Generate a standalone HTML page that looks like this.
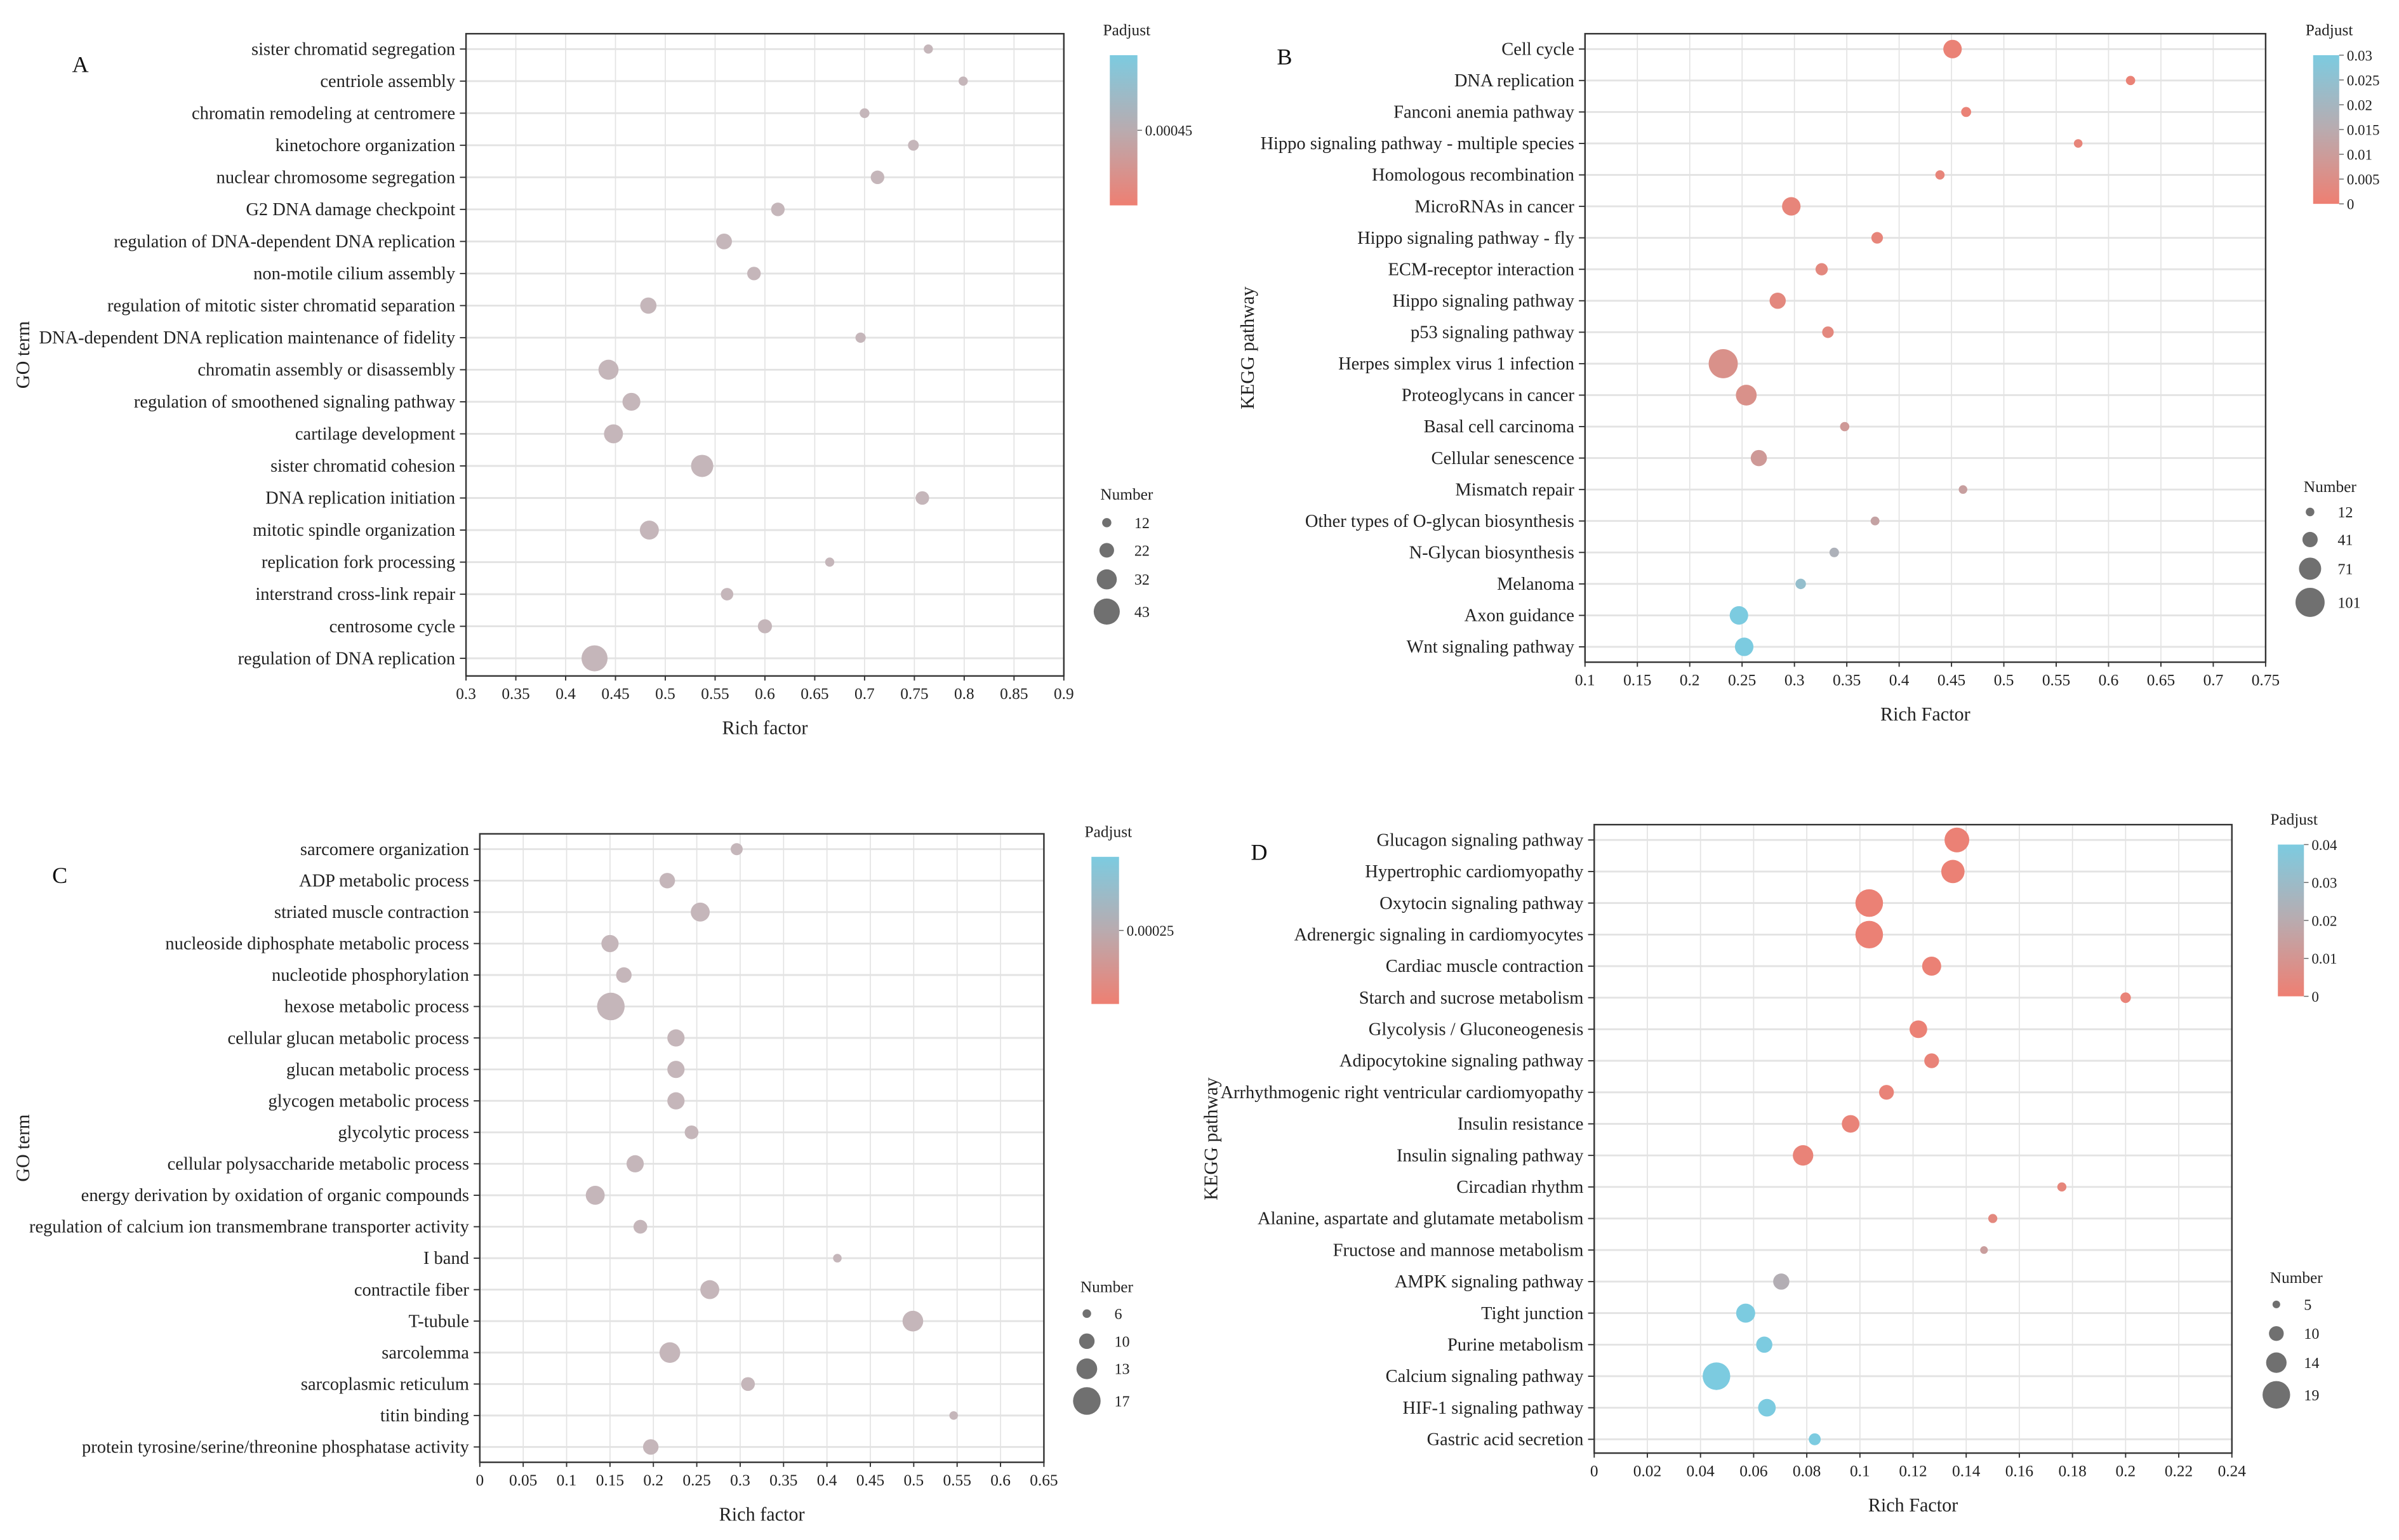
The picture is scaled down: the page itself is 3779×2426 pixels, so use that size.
<!DOCTYPE html>
<html><head><meta charset="utf-8">
<style>
html,body{margin:0;padding:0;background:#fff;}
svg{display:block;font-family:"Liberation Serif",serif;}
</style></head>
<body>
<svg id="chart" xmlns="http://www.w3.org/2000/svg" width="3779" height="2426" viewBox="0 0 1565 1004.7">
<rect width="1565" height="1004.7" fill="#fff"/>
</svg>
<script>
// ---------- Panel A data ----------
const aTerms = ["sister chromatid segregation","centriole assembly","chromatin remodeling at centromere","kinetochore organization","nuclear chromosome segregation","G2 DNA damage checkpoint","regulation of DNA-dependent DNA replication","non-motile cilium assembly","regulation of mitotic sister chromatid separation","DNA-dependent DNA replication maintenance of fidelity","chromatin assembly or disassembly","regulation of smoothened signaling pathway","cartilage development","sister chromatid cohesion","DNA replication initiation","mitotic spindle organization","replication fork processing","interstrand cross-link repair","centrosome cycle","regulation of DNA replication"];
const aRich = [0.764,0.799,0.700,0.749,0.713,0.613,0.559,0.589,0.483,0.696,0.443,0.466,0.448,0.537,0.758,0.484,0.665,0.562,0.600,0.429];
const aCount = [12,12,13,15,20,20,24,20,25,14,32,28,30,36,20,30,12,18,21,43];
const aTicks = [0.3,0.35,0.4,0.45,0.5,0.55,0.6,0.65,0.7,0.75,0.8,0.85,0.9];
const aSizeLegend = [12,22,32,43];
// ---------- Panel B data ----------
const bTerms = ["Cell cycle","DNA replication","Fanconi anemia pathway","Hippo signaling pathway - multiple species","Homologous recombination","MicroRNAs in cancer","Hippo signaling pathway - fly","ECM-receptor interaction","Hippo signaling pathway","p53 signaling pathway","Herpes simplex virus 1 infection","Proteoglycans in cancer","Basal cell carcinoma","Cellular senescence","Mismatch repair","Other types of O-glycan biosynthesis","N-Glycan biosynthesis","Melanoma","Axon guidance","Wnt signaling pathway"];
const bRich = [0.451,0.621,0.464,0.571,0.439,0.297,0.379,0.326,0.284,0.332,0.232,0.254,0.348,0.266,0.461,0.377,0.338,0.306,0.247,0.252];
const bCount = [55,15,18,12,15,55,25,28,45,25,101,65,15,45,12,13,16,20,55,55];
const bPadj = [0.001,0.001,0.001,0.002,0.002,0.002,0.002,0.003,0.003,0.003,0.006,0.006,0.009,0.009,0.011,0.012,0.018,0.024,0.03,0.03];
const bTicks = [0.1,0.15,0.2,0.25,0.3,0.35,0.4,0.45,0.5,0.55,0.6,0.65,0.7,0.75];
const bSizeLegend = [12,41,71,101];
const bColorTicks = [0.03,0.025,0.02,0.015,0.01,0.005,0];
// ---------- Panel C data ----------
const cTerms = ["sarcomere organization","ADP metabolic process","striated muscle contraction","nucleoside diphosphate metabolic process","nucleotide phosphorylation","hexose metabolic process","cellular glucan metabolic process","glucan metabolic process","glycogen metabolic process","glycolytic process","cellular polysaccharide metabolic process","energy derivation by oxidation of organic compounds","regulation of calcium ion transmembrane transporter activity","I band","contractile fiber","T-tubule","sarcolemma","sarcoplasmic reticulum","titin binding","protein tyrosine/serine/threonine phosphatase activity"];
const cRich = [0.296,0.216,0.254,0.150,0.166,0.151,0.226,0.226,0.226,0.244,0.179,0.133,0.185,0.412,0.265,0.499,0.219,0.309,0.546,0.197];
const cCount = [8,10,12,11,10,17,11,11,11,9,11,12,9,6,12,13,13,9,5,10];
const cTicks = [0,0.05,0.1,0.15,0.2,0.25,0.3,0.35,0.4,0.45,0.5,0.55,0.6,0.65];
const cSizeLegend = [6,10,13,17];
// ---------- Panel D data ----------
const dTerms = ["Glucagon signaling pathway","Hypertrophic cardiomyopathy","Oxytocin signaling pathway","Adrenergic signaling in cardiomyocytes","Cardiac muscle contraction","Starch and sucrose metabolism","Glycolysis / Gluconeogenesis","Adipocytokine signaling pathway","Arrhythmogenic right ventricular cardiomyopathy","Insulin resistance","Insulin signaling pathway","Circadian rhythm","Alanine, aspartate and glutamate metabolism","Fructose and mannose metabolism","AMPK signaling pathway","Tight junction","Purine metabolism","Calcium signaling pathway","HIF-1 signaling pathway","Gastric acid secretion"];
const dRich = [0.1365,0.135,0.1035,0.1035,0.127,0.200,0.122,0.127,0.110,0.0965,0.0786,0.176,0.150,0.1467,0.0704,0.057,0.064,0.046,0.065,0.083];
const dCount = [17,16,19,19,13,7,12,10,10,12,14,6,6,5,11,13,11,19,12,8];
const dPadj = [0.001,0.001,0.001,0.001,0.001,0.002,0.001,0.002,0.002,0.002,0.002,0.003,0.004,0.014,0.022,0.04,0.04,0.04,0.04,0.04];
const dTicks = [0,0.02,0.04,0.06,0.08,0.1,0.12,0.14,0.16,0.18,0.2,0.22,0.24];
const dSizeLegend = [5,10,14,19];
const dColorTicks = [0.04,0.03,0.02,0.01,0];

const NS = "http://www.w3.org/2000/svg";
const svg = document.getElementById('chart');
function mk(tag, attrs, parent, text){
  const e = document.createElementNS(NS, tag);
  for (const k in attrs) e.setAttribute(k, attrs[k]);
  if (text !== undefined) e.textContent = text;
  (parent || svg).appendChild(e);
  return e;
}
function hex(c){return [parseInt(c.slice(1,3),16),parseInt(c.slice(3,5),16),parseInt(c.slice(5,7),16)];}
const cRed = hex('#ee7f72'), cMid = hex('#b9abaf'), cBlue = hex('#7ccbe0');
function lerp(a,b,t){return a.map((v,i)=>Math.round(v+(b[i]-v)*t));}
function colorAt(t){
  t=Math.max(0,Math.min(1,t));
  const c = t<0.5 ? lerp(cRed,cMid,t*2) : lerp(cMid,cBlue,(t-0.5)*2);
  return 'rgb('+c.join(',')+')';
}
let gradId = 0;
function panel(p){
  const g = mk('g', {});
  
  
  const xs = v => p.x0 + (v - p.xmin)/(p.xmax - p.xmin)*(p.x1 - p.x0);
  const n = p.terms.length;
  const ys = i => p.r0 + i*(p.rN - p.r0)/(n-1);
  const [smin, smax] = [p.sizeLegend[0], p.sizeLegend[p.sizeLegend.length-1]];
  const rs = c => p.rmin + (Math.max(smin,Math.min(smax,c)) - smin)/(smax - smin)*(p.rmax - p.rmin);
  p.ticks.forEach(t=>{
    const l = mk('line',{x1:xs(t),x2:xs(t),y1:p.top,y2:p.bottom,stroke:'#e3e3e3','stroke-width':0.7},g);
    
    
  });
  p.terms.forEach((t,i)=>{
    const l = mk('line',{x1:p.x0,x2:p.x1,y1:ys(i),y2:ys(i),stroke:'#e3e3e3','stroke-width':1.2},g);
    
    
  });
  const fr = mk('rect',{x:p.x0,y:p.top,width:p.x1-p.x0,height:p.bottom-p.top,fill:'none',stroke:'#333','stroke-width':1},g);
  
  
  p.ticks.forEach(t=>{
    mk('line',{x1:xs(t),x2:xs(t),y1:p.bottom,y2:p.bottom+3,stroke:'#333','stroke-width':0.8},g);
    const tx = mk('text',{x:xs(t),y:p.bottom+15,'font-size':10.5,'text-anchor':'middle',fill:'#222'},g,String(t));
    
    
  });
  const xt = mk('text',{x:(p.x0+p.x1)/2,y:p.bottom+38,'font-size':12.5,'text-anchor':'middle',fill:'#222'},g,p.xTitle);
  
  
  const yt = mk('text',{x:0,y:0,'font-size':12.5,'text-anchor':'middle',fill:'#222',transform:'translate('+p.yTitleX+','+(p.top+p.bottom)/2+') rotate(-90)'},g,p.yTitle);
  
  
  p.terms.forEach((t,i)=>{
    mk('line',{x1:p.x0-4,x2:p.x0,y1:ys(i),y2:ys(i),stroke:'#333','stroke-width':0.8},g);
    const tx = mk('text',{x:p.x0-7,y:ys(i)+3.8,'font-size':11.8,'text-anchor':'end',fill:'#222'},g,t);
    
    
  });
  p.terms.forEach((t,i)=>{
    const col = p.padj ? colorAt(p.padj[i]/p.cmax) : '#c5b6ba';
    const c = mk('circle',{cx:xs(p.rich[i]),cy:ys(i),r:rs(p.count[i]),fill:col},g);
    
    
  });
  const L = mk('text',{x:p.letter[0],y:p.letter[1],'font-size':15,fill:'#111'},g,p.letterText);
  
  
  const cb = p.cbar;
  const id = 'grad'+(gradId++);
  const defs = mk('defs',{},g);
  const lg = mk('linearGradient',{id:id,x1:0,y1:1,x2:0,y2:0},defs);
  [0,0.25,0.5,0.75,1].forEach(s=>mk('stop',{offset:s,'stop-color':colorAt(s)},lg));
  const ct = mk('text',{x:cb.x+cb.w/2+2,y:cb.y-13,'font-size':10.5,'text-anchor':'middle',fill:'#222'},g,'Padjust');
  
  
  const bar = mk('rect',{x:cb.x,y:cb.y,width:cb.w,height:cb.h,fill:'url(#'+id+')'},g);
  
  
  if (p.colorTicks){
    p.colorTicks.forEach(v=>{
      const yy = cb.y + cb.h*(1 - v/p.cmax);
      mk('line',{x1:cb.x+cb.w,x2:cb.x+cb.w+3,y1:yy,y2:yy,stroke:'#666','stroke-width':0.6},g);
      const tx = mk('text',{x:cb.x+cb.w+5,y:yy+3.5,'font-size':9.5,fill:'#222'},g,String(v));
      
      
    });
  } else {
    const yy = cb.y + cb.h/2;
    mk('line',{x1:cb.x+cb.w,x2:cb.x+cb.w+3,y1:yy,y2:yy,stroke:'#666','stroke-width':0.6},g);
    const tx = mk('text',{x:cb.x+cb.w+5,y:yy+3.5,'font-size':9.5,fill:'#222'},g,p.cLabel);
    
    
  }
  const sl = p.sLeg;
  const st = mk('text',{x:sl.x+13,y:sl.titleY,'font-size':10.5,'text-anchor':'middle',fill:'#222'},g,'Number');
  
  
  p.sizeLegend.forEach((v,i)=>{
    const c = mk('circle',{cx:sl.x,cy:sl.ys[i],r:rs(v),fill:'#707070'},g);
    
    
    const tx = mk('text',{x:sl.x+18,y:sl.ys[i]+3.5,'font-size':10,fill:'#222'},g,String(v));
    
    
  });
}

panel({name:'panel-a-go',terms:aTerms,rich:aRich,count:aCount,ticks:aTicks,sizeLegend:aSizeLegend,
  xmin:0.3,xmax:0.9,x0:304,x1:694,top:22,bottom:441,r0:32,rN:429.5,rmin:3,rmax:8.5,
  xTitle:'Rich factor',yTitle:'GO term',yTitleX:19,letter:[47,47],letterText:'A',
  cbar:{x:724,y:36,w:18,h:98},cLabel:'0.00045',sLeg:{x:722,titleY:326,ys:[341,359,378,399]}});
panel({name:'panel-b-kegg',terms:bTerms,rich:bRich,count:bCount,padj:bPadj,cmax:0.03,colorTicks:bColorTicks,ticks:bTicks,sizeLegend:bSizeLegend,
  xmin:0.1,xmax:0.75,x0:1034,x1:1478,top:22,bottom:432,r0:32,rN:422,rmin:2.8,rmax:9.5,
  xTitle:'Rich Factor',yTitle:'KEGG pathway',yTitleX:818,letter:[833,42],letterText:'B',
  cbar:{x:1509,y:36,w:17,h:97},sLeg:{x:1507,titleY:321,ys:[334,352,371,393]}});
panel({name:'panel-c-go',terms:cTerms,rich:cRich,count:cCount,ticks:cTicks,sizeLegend:cSizeLegend,
  xmin:0,xmax:0.65,x0:313,x1:681,top:544,bottom:954,r0:554,rN:944,rmin:2.8,rmax:9,
  xTitle:'Rich factor',yTitle:'GO term',yTitleX:19,letter:[34,576],letterText:'C',
  cbar:{x:712,y:559,w:18,h:96},cLabel:'0.00025',sLeg:{x:709,titleY:843,ys:[857,875,893,914]}});
panel({name:'panel-d-kegg',terms:dTerms,rich:dRich,count:dCount,padj:dPadj,cmax:0.04,colorTicks:dColorTicks,ticks:dTicks,sizeLegend:dSizeLegend,
  xmin:0,xmax:0.24,x0:1040,x1:1456,top:538,bottom:948,r0:548,rN:939,rmin:2.5,rmax:9,
  xTitle:'Rich Factor',yTitle:'KEGG pathway',yTitleX:794,letter:[816,561],letterText:'D',
  cbar:{x:1486,y:551,w:17,h:99},sLeg:{x:1485,titleY:837,ys:[851,870,889,910]}});
</script>
</body></html>
